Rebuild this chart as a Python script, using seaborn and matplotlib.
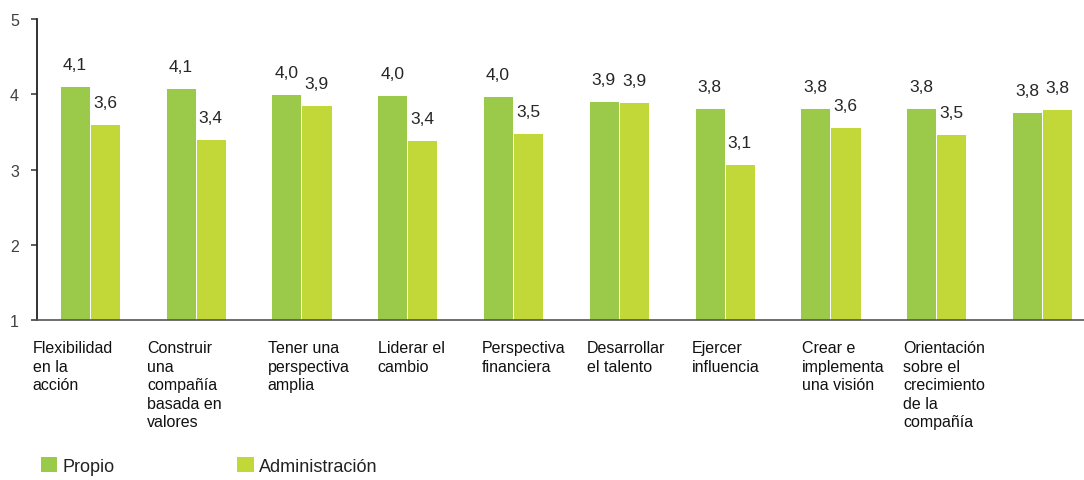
import matplotlib
matplotlib.use("Agg")
import matplotlib.pyplot as plt
import matplotlib.transforms as mtransforms
from matplotlib.patches import Patch
import pandas as pd
import seaborn as sns

# Competency categories (wrapped as shown under each group)
categories = [
    "Flexibilidad\nen la\nacción",
    "Construir\nuna\ncompañía\nbasada en\nvalores",
    "Tener una\nperspectiva\namplia",
    "Liderar el\ncambio",
    "Perspectiva\nfinanciera",
    "Desarrollar\nel talento",
    "Ejercer\ninfluencia",
    "Crear e\nimplementa\nuna visión",
    "Orientación\nsobre el\ncrecimiento\nde la\ncompañía",
    "",
]
series = ["Propio", "Administración"]
propio = [4.11, 4.08, 4.00, 3.99, 3.98, 3.91, 3.82, 3.82, 3.82, 3.76]
administracion = [3.60, 3.41, 3.86, 3.39, 3.49, 3.90, 3.07, 3.56, 3.47, 3.80]
y_ticks = [1, 2, 3, 4, 5]

colors = {"Propio": "#9bc94a", "Administración": "#c2d838"}

df = pd.DataFrame({
    "categoria": categories * 2,
    "serie": [series[0]] * len(categories) + [series[1]] * len(categories),
    "valor": propio + administracion,
})

sns.set_theme(style="white")
plt.rcParams["font.family"] = ["Liberation Sans", "DejaVu Sans"]

fig = plt.figure(figsize=(10.84, 4.81), dpi=100)
ax = fig.add_axes([0.0341, 0.3326, 0.9659, 0.6258])

sns.barplot(
    data=df, x="categoria", y="valor", hue="serie",
    order=categories, hue_order=series, palette=colors, saturation=1,
    width=0.57, edgecolor="white", linewidth=0.7,
    legend=False, ax=ax,
)

ax.set_ylim(1, 5)
ax.set_yticks(y_ticks)
ax.set_yticklabels([str(t) for t in y_ticks], fontsize=11.5, color="#404040")
ax.set_xlim(-0.5, 9.396)
ax.set_xlabel("")
ax.set_ylabel("")
ax.set_xticks([])

for side in ["top", "right"]:
    ax.spines[side].set_visible(False)
ax.spines["left"].set_color("#222222")
ax.spines["left"].set_linewidth(1.3)
ax.spines["bottom"].set_color("#555555")
ax.spines["bottom"].set_linewidth(1.2)
ax.tick_params(axis="y", which="major", left=True, length=4, width=1.1,
               color="#333333", pad=9)

# Value labels with comma decimals
for container in ax.containers:
    vals = [b.get_height() for b in container]
    ax.bar_label(container, labels=[f"{v:.1f}".replace(".", ",") for v in vals],
                 padding=10, fontsize=12.5, color="#262626")

# Category labels, left-aligned under each group
label_offsets = [-0.54, -0.46, -0.32, -0.28, -0.30, -0.30, -0.31, -0.27, -0.31, -0.30]
trans = mtransforms.blended_transform_factory(ax.transData, ax.transAxes)
for i, (cat, off) in enumerate(zip(categories, label_offsets)):
    ax.text(i + off, -0.068, cat, transform=trans, ha="left", va="top",
            fontsize=11.5, color="#111111", linespacing=1.28)

# Legend along the bottom edge
handles = [Patch(facecolor=colors[s], edgecolor="none", label=s) for s in series]
fig.legend(handles=handles, loc="lower left", bbox_to_anchor=(0.031, -0.004),
           ncol=2, frameon=False, fontsize=13, handlelength=0.9,
           handleheight=0.9, handletextpad=0.3, columnspacing=6.8,
           borderaxespad=0, labelcolor="#222222")

fig.savefig("out.png", dpi=100)
